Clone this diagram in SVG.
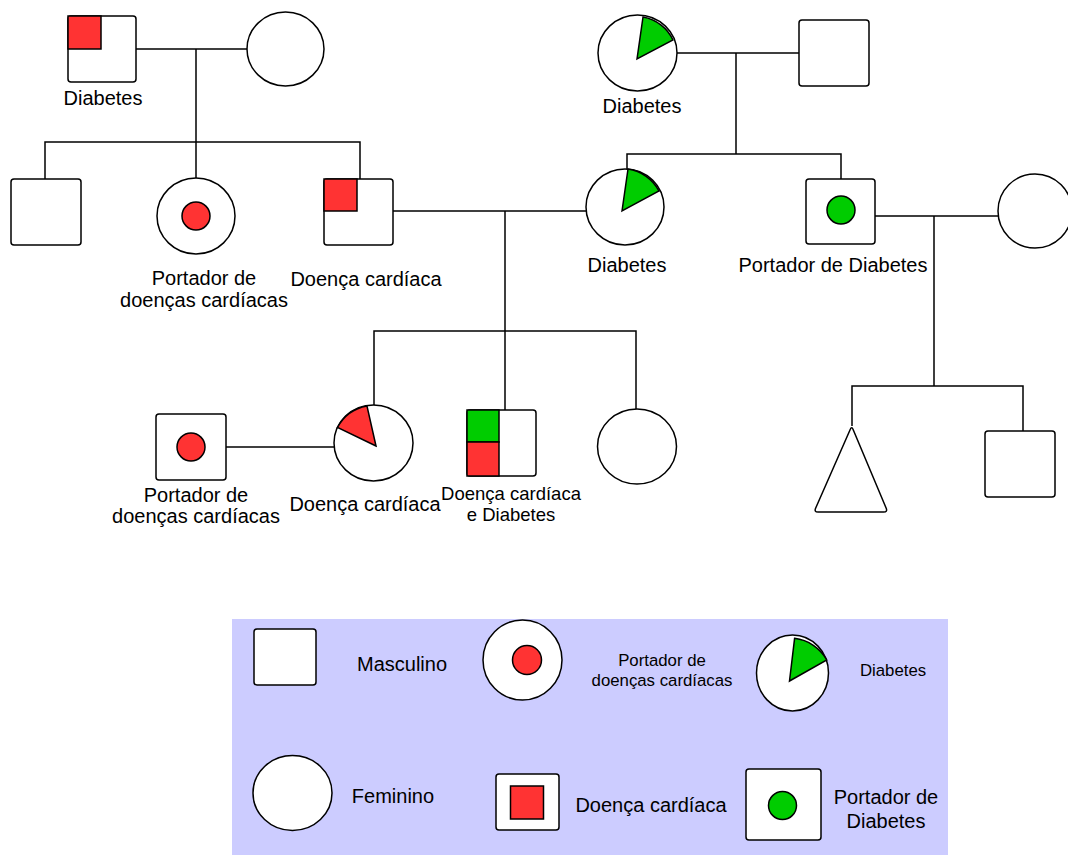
<svg xmlns="http://www.w3.org/2000/svg" width="1068" height="855" viewBox="0 0 1068 855">
<style>
.s{fill:#fff;stroke:#000;stroke-width:1.5}
.r{fill:#ff3333;stroke:#000;stroke-width:1.5}
.g{fill:#00cc00;stroke:#000;stroke-width:1.5}
.c{fill:none;stroke:#000;stroke-width:1.5}
text{font-family:"Liberation Sans",Arial,Helvetica,sans-serif;font-size:20px;fill:#000;text-anchor:middle}
.sm{font-size:16.8px}
.md{font-size:18.5px}
</style>
<rect x="0" y="0" width="1068" height="855" fill="#fff"/>
<g id="connectors">
<path class="c" d="M136,49 H247 M196,49 V142 M45,179 V142 H360 V179 M196,142 V178"/>
<path class="c" d="M677,53 H799 M736,53 V154 M627,170 V154 H841 V179"/>
<path class="c" d="M393,211 H586 M505,211 V331 M374,406 V331 H636 V410 M505,331 V410"/>
<path class="c" d="M875,216 H998 M934,216 V386 M852,426 V386 H1023 V431"/>
<path class="c" d="M226,447 H334"/>
</g>
<g id="n-grandfather1">
<rect class="s" x="68" y="16" width="68" height="66" rx="3"/>
<rect class="r" x="68" y="16" width="33" height="33"/>
<text x="103" y="105">Diabetes</text>
</g>
<g id="n-grandmother1">
<ellipse class="s" cx="285.5" cy="49" rx="38.5" ry="37"/>
</g>
<g id="n-uncle1">
<rect class="s" x="11" y="179" width="70" height="66" rx="3"/>
</g>
<g id="n-aunt1">
<ellipse class="s" cx="196" cy="216" rx="39" ry="38"/>
<circle class="r" cx="196" cy="216" r="14"/>
<text x="204" y="285">Portador de</text>
<text x="204" y="307">doenças cardíacas</text>
</g>
<g id="n-father">
<rect class="s" x="324" y="179" width="69" height="66" rx="3"/>
<rect class="r" x="324" y="179" width="33" height="32"/>
<text x="366" y="286">Doença cardíaca</text>
</g>
<g id="n-grandmother2">
<ellipse class="s" cx="637.5" cy="53" rx="39.5" ry="38"/>
<path class="g" d="M637,59 L643,17 A41 41 0 0 1 673,40 Z"/>
<text x="642" y="113">Diabetes</text>
</g>
<g id="n-grandfather2">
<rect class="s" x="799" y="20" width="70" height="66" rx="3"/>
</g>
<g id="n-mother">
<ellipse class="s" cx="625" cy="207" rx="39" ry="38"/>
<path class="g" d="M622,211 L628,169 A42 42 0 0 1 659,191 Z"/>
<text x="627" y="272">Diabetes</text>
</g>
<g id="n-uncle2">
<rect class="s" x="806" y="179" width="69" height="65" rx="3"/>
<circle class="g" cx="841" cy="210" r="14"/>
<text x="833" y="272">Portador de Diabetes</text>
</g>
<g id="n-aunt2">
<ellipse class="s" cx="1035" cy="211" rx="37" ry="37"/>
</g>
<g id="n-husband">
<rect class="s" x="156" y="414" width="70" height="66" rx="3"/>
<circle class="r" cx="191" cy="447" r="14"/>
<text x="196" y="502">Portador de</text>
<text x="196" y="523">doenças cardíacas</text>
</g>
<g id="n-daughter">
<ellipse class="s" cx="373.5" cy="443" rx="39.5" ry="38"/>
<path class="r" d="M376,446 L337.5,427.5 A42 42 0 0 1 367,406 Z"/>
<text x="365" y="511">Doença cardíaca</text>
</g>
<g id="n-son">
<rect class="s" x="467" y="410" width="69" height="66" rx="3"/>
<rect class="g" x="467" y="410" width="32" height="32"/>
<rect class="r" x="467" y="442" width="32" height="34"/>
<text class="md" x="511" y="500">Doença cardíaca</text>
<text class="md" x="511" y="521">e Diabetes</text>
</g>
<g id="n-daughter2">
<ellipse class="s" cx="637" cy="446.5" rx="39.5" ry="37.5"/>
</g>
<g id="n-cousin1">
<path class="s" d="M850.1,429.7 Q851.7,426 853.2,429.7 L886.2,508.3 Q887.7,512 883.7,512 L818,512 Q814,512 815.6,508.3 Z"/>
</g>
<g id="n-cousin2">
<rect class="s" x="985" y="431" width="70" height="66" rx="3"/>
</g>
<g id="legend">
<rect x="232" y="619" width="716" height="236" fill="#ccccff"/>
<rect class="s" x="254" y="629" width="62" height="56" rx="3"/>
<text x="402" y="671">Masculino</text>
<ellipse class="s" cx="522.5" cy="660" rx="39.5" ry="40"/>
<circle class="r" cx="527" cy="660" r="14.5"/>
<text class="sm" x="662" y="666">Portador de</text>
<text class="sm" x="662" y="686">doenças cardíacas</text>
<ellipse class="s" cx="792.5" cy="673" rx="36" ry="38"/>
<path class="g" d="M789.5,681 L794.6,638.3 A43 43 0 0 1 826.8,660 Z"/>
<text class="sm" x="893" y="676">Diabetes</text>
<ellipse class="s" cx="292.5" cy="793" rx="39.5" ry="37.5"/>
<text x="393" y="803">Feminino</text>
<rect class="s" x="496" y="774" width="63" height="56" rx="3"/>
<rect class="r" x="510.5" y="786" width="33" height="33"/>
<text x="651" y="812">Doença cardíaca</text>
<rect class="s" x="746" y="769" width="75" height="71" rx="3"/>
<circle class="g" cx="782.5" cy="805.5" r="14"/>
<text x="886" y="804">Portador de</text>
<text x="886" y="828">Diabetes</text>
</g>
</svg>
